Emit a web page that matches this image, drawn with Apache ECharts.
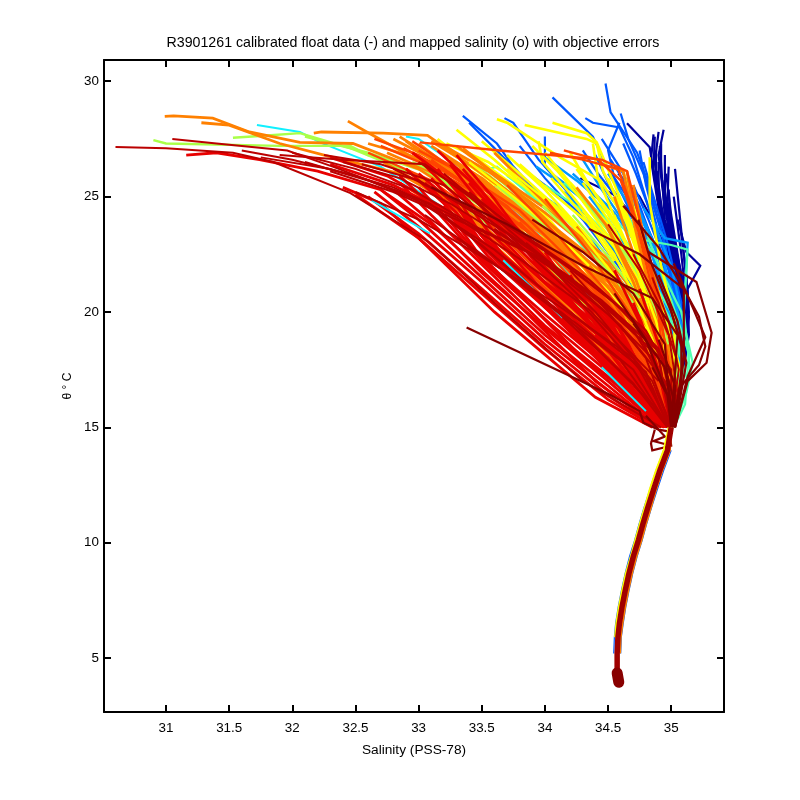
<!DOCTYPE html>
<html><head><meta charset="utf-8">
<script src="https://cdn.jsdelivr.net/npm/echarts@6/dist/echarts.min.js"></script>
<style>html,body{margin:0;padding:0;background:#fff}#c{width:800px;height:800px}</style>
</head><body><div id="c"></div>
<script>
const titleText = 'R3901261 calibrated float data (-) and mapped salinity (o) with objective errors';
const xName = 'Salinity (PSS-78)';
const yName = 'θ ° C';
const xTicks = [31,31.5,32,32.5,33,33.5,34,34.5,35];
const yTicks = [5,10,15,20,25,30];

// Each profile: flat salinity, theta pairs, warm end first
const navy = [
[34.65,28.18,34.83,27.14,34.87,25.7,35.0,22.7,35.11,19.6,35.07,16.6,35,14.9],
[34.94,27.9,34.9,26.8,34.95,24.5,35.07,21.5,35.12,19,35.05,16,35,15],
[34.9,27.8,34.87,26.5,34.94,24,35.05,21,35.1,18.8,35.03,15.8,35,15],
[34.87,27.6,34.86,26.2,34.92,23.8,35.08,21,35.1,18.5,35.03,15.5,34.99,15],
[34.92,27.3,34.92,26,34.98,23.5,35.1,20.5,35.12,18.4,35.04,15.9,35,15],
[34.88,27,34.88,25.4,34.96,23,35.07,20.2,35.09,18.2,35.02,15.5,35,15],
[34.95,26.8,34.95,25.2,35.02,23,35.12,20,35.1,18,35.02,15.5,35,15],
[34.9,26.5,34.9,25,34.97,22.8,35.1,20,35.13,18.6,35.04,16,35,15],
[35.03,26.2,35.08,23.5,35.12,21.5,35.13,19,35.06,16.5,35,15],
[34.93,25.7,34.95,24,35.04,22,35.11,19.5,35.05,16,35,15],
[34.98,25.3,35.0,23.5,35.1,21,35.12,19,35.04,16,35,15],
[35.02,25,35.08,22.5,35.13,20,35.1,18,35.03,15.6,35,15],
[34.58,26,34.75,25,34.85,24,34.98,22.5,35.1,20,35.05,16.5,35,15],
[34.28,25.8,34.54,25.1,34.72,24.1,34.9,22.5,35.05,20,35.05,17,35,15],
[35.05,24,35.12,22.6,35.23,22,35.13,21,35.14,19,35.05,16,35,15],
[35.08,23.4,35.12,21.5,35.14,20,35.1,18,35.03,15.6,35,15],
[34.86,27.7,34.84,26.6,34.9,24.5,35.02,22,35.08,19.5,35.04,16,35,15],
[34.98,26.3,34.97,24.8,35.05,22.4,35.13,20.4,35.08,17.5,35,15],
[34.91,27.2,34.93,25.6,35,23.2,35.09,20.8,35.11,18.8,35.03,15.7],
[34.96,26,35,24.2,35.06,22.2,35.14,19.8,35.06,16.4,35,15],
[34.89,26.1,34.92,24.4,35.01,22,35.1,19.2,35.03,15.8]
];
const blue = [
[34.48,29.9,34.52,28.65,34.73,26.9,34.81,25.7,34.95,23,35.05,20,35.03,16.5,35,15],
[34.06,29.3,34.38,27.6,34.49,26.3,34.65,25,34.85,22.5,35.02,19,35,15],
[34.32,28.4,34.38,28.2,34.59,28,34.7,26.7,34.85,24,35.02,20.5,35.03,17,35,15],
[33.35,28.5,33.62,27.3,33.75,26.3,34.05,24.5,34.45,22,34.85,18.5,35,15],
[33.4,28.2,33.6,27.1,33.85,25.7,34.2,23.6,34.6,20.8,34.9,17.5,35,15],
[33.68,28.4,33.75,28.2,33.95,26.6,34.1,25.7,34.4,23.8,34.8,20,35,15],
[34.0,27.6,34.0,26.3,34.15,25.4,34.5,23,34.85,20,35,15],
[34.59,28.2,34.5,27,34.55,25.8,34.75,23.5,35,19.8,35.02,17,35,15],
[34.6,28.6,34.66,27.5,34.78,26,34.92,23.5,35.08,20,35.04,16,35,15],
[34.4,26.8,34.5,25.6,34.7,24,34.95,21.5,35.05,18.5,35,15],
[34.75,27,34.8,25.5,34.92,23,35.05,20.5,35.05,17,35,15],
[33.9,25.9,34.15,24.9,34.5,23.1,34.85,20.5,35.02,17.5,35,15],
[34.7,25.5,34.82,24,34.98,21.8,35.08,19.5,35.03,16,35,15],
[34.2,25.5,34.42,24.2,34.7,22.2,34.95,19.5,35,15],
[33.55,26.2,33.9,24.5,34.3,22.2,34.7,19,34.98,15],
[34.62,27.3,34.72,26,34.83,24.4,34.98,22,35.08,19.2,35.02,16],
[34.45,27.5,34.6,26.2,34.75,24.6,34.9,22.4,35.03,19.4,35,15],
[34.3,27,34.42,26,34.62,24.6,34.85,22,35,19,35,15],
[33.8,27.2,34,25.8,34.3,24,34.65,21.5,34.95,18,35,15],
[34.78,26.5,34.86,25,34.97,23,35.08,20.4,35.04,16.6],
[34.52,26.6,34.68,25.2,34.85,23.2,35,20.6,35.04,17.4]
];
const azure = [
[33.93,26.3,34.2,25.3,34.5,24,34.8,21.5,35.0,18.6,35,15],
[34.05,26.0,34.3,25,34.6,23.3,34.85,21,35.02,18,35,15],
[34.3,26.6,34.45,25.3,34.7,23.3,34.95,20.5,35.05,17.5,35,15],
[33.78,25.8,34.1,24.6,34.4,22.9,34.75,20.2,34.98,16.5,35,15],
[34.5,26.0,34.65,24.8,34.8,23.2,35.0,20.5,35.03,17,35,15],
[33.6,25.5,33.9,24.3,34.25,22.4,34.65,19.6,34.95,16,35,15],
[34.65,25.6,34.78,24,34.95,22,35.1,19,35.05,16,35,15],
[34.15,25.2,34.4,23.8,34.7,21.6,34.95,18.5,35,15],
[34.35,25,34.55,23.6,34.82,21.4,35,18.5,35,15],
[34.78,24.5,34.95,23.2,35.13,23,35.1,20,35.05,17,35,15],
[34.85,24,35,22,35.1,19.5,35.05,16.5,35,15],
[34.0,26.7,34.25,25.7,34.55,24.3,34.82,22.2,35.02,19.4,35,15.4],
[34.22,26,34.5,24.6,34.78,22.8,34.98,20.4,35.05,17.6],
[34.42,25.7,34.6,24.4,34.85,22.4,35.03,19.8,35.02,16.4],
[34.7,24.8,34.85,23,35,21,35.08,18.6,35,15.4]
];
const cyan = [
[31.72,28.1,32.06,27.8,32.22,27.35,32.7,26.3,33.2,24.5,33.8,21.6,34.5,17.6,34.95,15],
[33.3,26.5,33.7,24.6,34.3,21,34.7,18.3,34.98,15],
[33.6,26.6,34.0,24.7,34.4,22.3,34.8,19,35,15],
[32.9,27.6,33.0,27.5,33.4,26,34,23.2,34.6,19.5,34.98,15]
];
const aqua = [
[33.48,26.1,33.62,26.3,33.9,25,34.3,23.2,34.7,20.5,34.98,17,35,15],
[34.0,25.5,34.3,24.4,34.6,22.8,34.9,20.3,35.08,18,35,15],
[34.15,25.6,34.45,24.2,34.75,22.3,35.0,20,35.1,17.5,35.05,15.8,35,15],
[34.4,24.8,34.7,23.2,35.0,22.9,35.13,22.7,35.1,20,35.15,17.4,35.07,15.8,35,15],
[34.6,24.6,34.85,22.6,35.08,20,35.17,17.8,35.12,16.5,35.02,15],
[34.8,23.5,35.0,20.5,35.14,18.2,35.11,16,35.02,15],
[33.85,25.2,34.15,23.8,34.55,21.2,34.92,18,35.02,15],
[33.7,25.9,34.05,24.6,34.45,22.5,34.82,19.6,35,16.4],
[34.25,25.2,34.55,23.4,34.85,21,35.05,18.2,35.03,15.6],
[34.5,24.2,34.75,22.2,35,19.6,35.13,17,35.05,15.4]
];
const lime = [
[30.9,27.45,31.0,27.3,31.9,27.2,32.46,27.2,32.6,26.8,32.99,26.3,33.5,24.6,34.2,21,34.8,17.3,35,15],
[31.53,27.55,31.8,27.65,32.06,27.75,32.46,27.1,33,25.9,33.5,24,34.1,21.2,34.75,17.2,34.98,15],
[32.1,27.6,32.6,26.9,33.1,26,33.6,24.2,34.2,21.4,34.75,17.8,35,15],
[33.0,26.4,33.5,24.7,33.9,23,34.4,20.3,34.85,17,35,15],
[33.3,25.6,33.75,24,34.15,22,34.6,19.3,34.95,16,35,15],
[33.6,25.9,33.95,24.3,34.4,21.8,34.8,18.8,35,15],
[33.95,25.2,34.3,23.4,34.65,21,34.95,18,35,15],
[34.3,24.8,34.6,22.9,34.85,20.6,35.05,17.8,35,15],
[33.2,26.8,33.65,25,34.1,22.9,34.6,19.6,34.97,15.5],
[34.2,23.6,34.5,21.6,34.85,18.8,35,15],
[33.45,26.4,33.85,24.6,34.25,22.6,34.7,19.8,34.98,16.2],
[33.8,25.6,34.15,23.9,34.5,21.8,34.88,18.6,35.02,15.8],
[34.05,24.8,34.4,22.8,34.72,20.4,34.98,17.4,35,15],
[34.45,24,34.7,21.9,34.95,19.2,35.05,16.6]
];
const yellow = [
[33.62,28.35,33.7,28.2,34.12,26.7,34.44,25.7,34.72,23.3,34.92,20.5,35.03,17,35,15],
[33.84,28.1,34.33,27.5,34.41,27.3,34.46,26.1,34.65,24.1,34.88,20.6,35.02,17,35,15],
[34.06,28.2,34.33,27.75,34.41,27.35,34.59,25,34.78,22.5,34.95,19.5,35,15],
[34.83,26.7,34.83,24.7,34.92,22,35.03,19.5,35,15],
[33.3,27.9,33.6,26.6,33.95,24.9,34.3,23,34.7,20,34.95,17,35,15],
[33.22,27.3,33.55,26.5,33.9,25.2,34.2,24,34.6,21,34.9,17.7,35,15],
[33.9,27.2,34.1,26.1,34.3,24.8,34.62,22.4,34.92,18.8,35,15],
[33.95,27.4,33.98,26.5,34.22,25,34.55,22.8,34.85,19.6,35,15],
[34.2,26.9,34.35,25.5,34.6,23.4,34.82,20.8,35,17,35,15],
[33.4,26.9,33.75,25.5,34.05,23.9,34.45,21.3,34.82,18.2,35,15],
[33.12,26.6,33.6,24.8,34,23,34.5,20,34.9,16.5,35,15],
[34.38,27.3,34.42,25.8,34.62,23.2,34.8,21,35,17,35,15],
[33.7,26.8,34,25.3,34.35,23.2,34.7,20.2,34.95,17,35,15],
[34.5,25.8,34.65,23.8,34.8,21.5,34.98,18.5,35,15],
[34.58,25.1,34.72,22.8,34.9,19.6,35.03,16.8,35,15],
[33.55,25.6,33.9,23.8,34.3,21.5,34.7,18.5,34.97,15.5],
[34.1,24.7,34.4,22.6,34.7,19.8,34.95,16.5,35,15],
[34.7,24.3,34.8,22.5,34.95,20,35.08,17.3,35,15],
[33.5,27.4,33.8,26,34.1,24.5,34.5,22,34.85,18.8,35,15.5],
[33.8,26.4,34.05,25.2,34.4,23.6,34.72,21,34.98,17.6,35,15],
[34.0,26.9,34.2,25.6,34.5,23.8,34.75,21.6,35,17.8],
[33.15,27.5,33.45,26.2,33.85,24.4,34.25,22.4,34.68,19.2,34.98,16],
[33.25,26.9,33.6,25.6,34,24,34.4,21.9,34.78,18.8,35,15.4],
[34.25,26.2,34.5,24.4,34.72,22.2,34.93,19.2,35.02,16.2],
[33.65,25.4,34.05,23.5,34.45,21,34.82,18,35,15.2],
[34.3,25.6,34.55,23.6,34.78,20.9,35,17.4],
[34.62,26.1,34.72,24.2,34.88,21,35,18.2,35,15.4]
];
const orange = [
[30.99,28.48,31.06,28.5,31.37,28.4,31.66,27.8,32.06,27.35,32.48,27.3,33,26.2,33.5,24.4,34,22,34.6,18.6,34.98,15],
[31.28,28.2,31.5,28.1,31.9,27.3,32.32,26.7,32.85,26,33.3,24.6,33.9,21.8,34.5,18.3,34.97,15],
[32.17,27.75,32.23,27.8,32.72,27.75,33.07,27.65,33.4,26.4,33.8,24.8,34.3,22,34.8,18.4,35,15],
[32.44,28.27,32.59,27.8,33.09,26.3,33.5,24.6,34,22,34.6,18.4,34.97,15],
[32.85,27.6,33.05,26.9,33.5,25.2,33.95,23.2,34.4,20.5,34.85,17,35,15],
[32.95,26.9,33.35,25.6,33.8,23.6,34.25,21,34.7,18,34.98,15],
[33.1,27.2,33.5,25.8,33.95,23.8,34.4,21,34.85,17.3,35,15],
[32.72,26.5,33.2,25,33.7,22.8,34.2,20,34.72,17,34.97,15],
[33.25,26.6,33.65,25,34.1,22.8,34.55,20,34.9,17,35,15],
[33.35,27.1,33.8,25.1,34.2,23,34.62,20.3,34.95,16.5,35,15],
[33.5,25.8,33.95,23.6,34.35,21.4,34.75,18.5,34.98,15.5],
[33.05,25.4,33.5,23.4,34,20.9,34.5,18.1,34.93,15],
[33.6,26.9,33.95,25,34.35,22.8,34.75,19.6,35,15.5],
[34.45,26.4,34.62,26.1,34.72,23.5,34.85,20.5,35,16.5,35,15],
[34.65,26.1,34.7,24.4,34.82,22,34.97,18.6,35,15],
[34.7,25.5,34.78,23.3,34.9,20.8,35.02,17,35,15],
[33.75,24.9,34.15,22.7,34.55,20,34.9,17,35,15],
[34.25,23.7,34.55,21.5,34.8,19,34.98,16,35,15],
[32.9,26.2,33.4,24.3,33.85,22.1,34.35,19.4,34.9,15.7],
[33.85,24.2,34.25,21.9,34.65,19,34.97,15.6],
[34.5,23.6,34.7,21.3,34.9,18.4,35,15],
[34.0,24,34.4,21.5,34.75,18.6,35,15],
[32.9,27.4,33.5,25,34,23.1,34.5,20.8,34.88,18.2,35,15],
[33,27.3,33.5,25.2,34,23.3,34.5,21.1,34.88,18.5,35,15.2],
[32.8,27.5,33.5,25.5,34,23.5,34.5,21.3,34.9,18.4,35,15],
[33.05,26.9,33.5,25.7,34,23.8,34.52,21.4,34.88,18.9,35,15],
[33.1,27.4,33.55,25.9,34,24,34.5,21.8,34.9,18.8,35,15.3],
[33.2,27.2,33.55,26.1,34,24.3,34.5,22.1,34.9,19,35,15],
[33.3,27.2,33.6,26,34,24.5,34.5,22.3,34.88,19.6,35,15.5],
[32.6,27.3,33.1,26.5,33.6,24.8,34.1,22.6,34.6,20,34.96,16.2],
[32.75,26.9,33.25,25.7,33.7,24.2,34.2,22.2,34.65,19.8,34.98,16],
[34.25,25.4,34.48,23.8,34.72,21.4,34.95,18,35,15.2],
[34.55,25,34.66,23.2,34.82,20.6,34.97,17,35,15],
[34.72,24.8,34.8,22.8,34.93,19.8,35.03,16.4]
];
// lighter strands that still show through the orange band
const limeTop = [
[33.98,24.6,34.25,23.2,34.55,21.5,34.8,19.6],
[34.22,24.2,34.5,22.4,34.75,20.6],
[34.62,22.7,34.82,20.9,34.98,18.6],
[33.62,25.5,33.85,24.4,34.1,23.3],
[32.95,26.5,33.2,25.9,33.42,25]
];
const yellowTop = [
[33.4,26.5,33.75,25,34.05,23.6,34.35,22],
[33.7,26.2,34,24.9,34.3,23.3,34.6,21.2],
[34.3,24.4,34.55,22.5,34.75,20.2,34.92,17.8],
[34.05,25.8,34.3,24.2,34.55,22.2],
[34.55,24.2,34.72,22,34.88,19.6,35,17]
];
const orangeRed = [
[33.01,27.35,33.64,27,34.45,26.6,34.65,26.1,34.75,24,34.88,21,35,17,35,15],
[34.04,26.9,34.3,26.6,34.58,26.2,34.72,24,34.85,21.5,35,17.2,35,15],
[34.15,27,34.42,26.6,34.6,25.7,34.74,23.5,34.9,19.8,35,15],
[33.0,27,33.35,26,33.8,24.4,34.3,21.7,34.8,18.4,35,15],
[32.95,27.4,33.2,26.5,33.7,24.6,34.2,22,34.7,18.6,34.98,15],
[32.6,26.9,33.1,25.7,33.55,23.9,34.05,21.2,34.6,17.9,34.96,15],
[33.15,26.1,33.6,24.2,34.1,21.7,34.6,18.7,34.97,15],
[33.4,25.9,33.85,23.8,34.3,21.3,34.7,18.5,34.98,15],
[33.7,25.5,34.1,23.3,34.5,20.8,34.85,17.7,35,15],
[32.85,25.6,33.3,24,33.8,21.7,34.35,18.6,34.93,15],
[33.2,24.9,33.7,22.6,34.2,20,34.7,17,34.98,15],
[33.5,24.4,33.95,22.2,34.4,19.6,34.85,16.7,35,15],
[34.0,24.9,34.35,22.6,34.7,19.7,34.98,16,35,15],
[33.8,23.9,34.25,21.2,34.7,18,34.98,15],
[32.7,27.2,33.05,26.4,33.5,25,34,22.9,34.5,20.4,34.92,16.8],
[32.88,27.1,33.2,26.2,33.55,24.9,34.05,22.6,34.55,19.9,34.95,16.2],
[33.1,26.6,33.45,25.2,33.95,23.1,34.45,20.4,34.88,17,35,15],
[32.65,27.5,33,26.8,33.4,25.4,33.85,23.6,34.35,21.2,34.85,17.8]
];
const red = [
[31.16,26.8,31.4,26.9,31.74,26.6,32.2,26.1,32.7,25.3,33.1,23.8,33.7,20.8,34.4,17,34.9,15],
[32.4,25.4,32.7,24.7,33.0,23.2,33.6,20,34.4,16.3,34.85,15],
[32.3,26.7,32.75,25.9,33.2,24.5,33.7,22.1,34.25,19.1,34.9,15.4],
[32.3,26.4,32.8,25.5,33.2,24.4,33.7,21.8,34.3,18.6,34.9,15.2],
[32.5,25.1,33,23.2,33.5,20.8,34,18.4,34.5,16.2,34.88,15],
[32.6,25,33,23.4,33.5,21,34,18.6,34.52,16.3,34.88,15],
[32.65,25.2,33,23.7,33.5,21.3,34,18.8,34.5,16.6,34.9,15],
[32.7,25.3,33,24,33.52,21.4,34,19,34.5,16.8,34.9,15],
[32.8,25.3,33.1,23.9,33.5,21.7,34.02,19.2,34.5,17,34.92,15],
[32.85,25.6,33.1,24.2,33.55,21.8,34,19.4,34.5,17.2,34.92,15],
[32.85,25.9,33.12,24.5,33.5,22.2,34.04,19.5,34.52,17.3,34.94,15],
[33,25.4,33.25,23.9,33.5,22.3,34,19.9,34.5,17.6,34.94,15],
[32.9,26.2,33.2,24.7,33.55,22.4,34.02,20.1,34.55,17.6,34.95,15],
[33.05,25.6,33.3,24.3,33.52,22.8,34,20.3,34.5,18,34.95,15],
[33,26,33.3,24.6,33.5,23,34,20.5,34.52,18.2,34.95,15],
[33.1,25.8,33.35,24.3,33.55,23,34.02,20.7,34.5,18.4,34.96,15],
[33.02,26.5,33.3,25,33.5,23.3,34,20.9,34.55,18.4,34.96,15],
[33.15,26.2,33.4,24.6,33.55,23.5,34.05,21,34.5,18.8,34.97,15],
[33.2,25.9,33.4,24.8,33.58,23.6,34,21.3,34.52,19,34.97,15],
[33.25,26.4,33.45,25,33.6,23.8,34.02,21.5,34.55,19,34.98,15],
[32.95,26.9,33.4,25.1,33.65,23.7,34.04,21.7,34.52,19.5,34.98,15.2],
[33.15,27,33.5,25.2,33.7,23.8,34.05,21.9,34.55,19.6,34.98,15.4],
[33.3,26.8,33.6,24.9,33.75,23.8,34.1,21.8,34.6,19.2,35,15.2],
[33.35,26.2,33.6,24.6,33.8,23.4,34.15,21.4,34.62,18.8,34.98,15],
[33.4,25.6,33.65,24.1,33.85,22.8,34.2,20.8,34.65,18.2,34.98,15],
[33.5,24.9,33.75,23.3,33.95,22,34.25,20.2,34.65,17.8,34.98,15],
[33.6,24.4,33.85,22.8,34.05,21.5,34.35,19.5,34.72,17.4,34.98,15],
[33.7,23.8,33.95,22.2,34.15,20.8,34.42,19,34.78,17,34.98,15],
[33.85,23,34.05,21.6,34.25,20.2,34.5,18.6,34.82,16.8,34.99,15],
[34,22.6,34.2,21,34.38,19.6,34.6,18,34.85,16.4,34.99,15],
[34.2,21.6,34.35,20.2,34.5,18.8,34.72,17.2,34.9,15.9,35,15],
[34.35,20.6,34.5,19.4,34.62,18.2,34.8,16.8,34.93,15.6],
[34.5,19.8,34.62,18.6,34.75,17.4,34.9,16,34.98,15],
[34.6,18.5,34.8,16.6,34.98,15],
[34.4,19,34.7,17,34.95,15],
[34.7,20.4,34.82,18.8,34.93,17,35,15],
[34.78,19.2,34.9,17.4,35,15],
[34.75,21,34.9,18.6,35.02,16.2],
[34.55,21.8,34.8,19,34.98,16],
[33.2,24.6,33.45,22.7,33.9,20.2,34.3,18,34.72,16.2],
[33.25,25,33.6,22.6,34.1,19.8,34.6,17.2,34.92,15.4],
[33.5,23.6,33.8,21.6,34.2,19.2,34.62,17,34.95,15],
[33.7,22.7,34,20.8,34.35,18.8,34.7,16.9,34.97,15],
[33.9,22.2,34.2,20.4,34.55,18.2,34.85,16.2]
];
const cyanTop = [
[32.63,24.84,33.09,23.4],
[33.67,22.24,34.14,19.75],
[34.45,17.6,34.8,15.7]
];
const crimson = [
[31.05,27.5,31.4,27.3,31.96,27.0,32.32,26.3,33.09,24.7,33.6,22.4,34.2,19.6,34.85,16,34.98,15],
[30.6,27.15,31.0,27.1,31.53,26.9,31.85,26.5,32.46,25.15,33.09,23,33.6,20.4,34.3,17,34.92,15],
[31.6,27.0,32,26.6,32.5,25.9,33,24.9,33.5,22.9,34.1,20,34.7,16.9,34.97,15],
[31.9,26.8,32.4,26.6,33.05,26.4,33.4,25,33.9,22.7,34.4,20,34.85,17,35,15],
[32.25,26.8,32.7,26.4,33.2,25.5,33.7,23.4,34.25,20.6,34.8,17.2,34.98,15],
[32.1,26.5,32.6,25.7,33.0,24.8,33.6,22.7,34.2,20,34.8,17.4,34.98,15],
[32.3,26.1,32.8,25.2,33.3,24,33.9,22.5,34.4,20.6,34.9,18.1,35,15],
[32.55,26.4,33.0,25.7,33.5,24.2,34,22.3,34.5,20.2,34.9,18,35,15],
[32.8,26.2,33.2,25.1,33.7,23.4,34.2,21.5,34.7,19.2,34.98,16.7,35,15],
[33.0,26.5,33.4,25.1,33.9,23.1,34.35,21.4,34.8,19.2,35.02,17,35,15],
[33.2,26,33.6,24.1,34.1,22.3,34.55,20.4,34.9,18.4,35.02,16,35,15],
[32.5,25.2,33,24,33.5,22.4,34.1,20.3,34.7,18,35,15],
[33.4,25.2,33.85,23.2,34.3,21.5,34.7,19.7,35,17.5,35,15],
[33.6,23.6,34.05,21.9,34.5,19.9,34.85,18,35,15.8],
[33.05,24.2,33.5,22.5,34.05,20.2,34.6,17.9,34.98,15],
[33.3,23.2,33.75,21.5,34.25,19.5,34.7,17.5,34.98,15],
[33.85,23,34.2,21.4,34.6,19.4,34.95,17,35,15],
[34.2,21.8,34.5,20,34.8,18,35,15],
[34.5,23.8,34.75,21.8,34.98,19,35.05,16.5,35,15],
[34.7,22.5,34.9,20.4,35.04,18,35,15],
[34.85,21.5,34.98,19.6,35.06,17.5,35,15],
[32,26.9,32.5,26.2,32.95,25.3,33.45,23.7,33.95,22.4,34.45,20.5,34.9,18.3],
[32.4,26.5,32.85,25.8,33.25,24.7,33.75,23,34.25,21.2,34.75,19,35,16],
[31.75,26.7,32.3,26.2,32.8,25.4,33.3,24.1,33.8,22.3,34.35,20.1,34.9,17]
];
const darkRed = [
[33.38,19.33,34.52,16.4,34.75,15.7,34.78,15.2,34.9,14.9,35,14.8],
[34.82,22.6,35.2,21.3,35.32,19.1,35.28,17.8,35.13,17,35.03,15],
[35.02,22.1,35.17,20.2,35.27,18.9,35.13,17.2,35.03,15],
[34.35,23.6,34.75,22.5,35.1,21,35.22,19.8,35.27,18.5,35.22,17.7,35.08,16.8,35,15],
[34.62,24.6,34.9,22.8,35.1,21,35.1,18,35.03,15],
[34.74,24,34.85,22,35,20,35.1,18.2,35.02,15],
[33.1,25.4,33.7,23.8,34.3,22,34.85,20.6,35.05,19,35,15],
[33.9,24,34.3,22.6,34.7,20.8,34.95,18.6,35,15],
[34.7,19.5,34.95,17.6,35.03,15],
[34.55,20.8,34.8,18.8,35,16,35,15],
[34.87,14.9,34.84,14.3,34.85,14.0,35.0,14.2,34.98,15],
[34.8,15.5,34.95,14.6,34.86,14.4,35,14.2],
[34.9,21.6,35.05,19.6,35.12,17.8,35.03,15],
[34.98,20.4,35.08,18.6,35.08,16.8,35,15],
[34.85,17.6,34.97,16.4,35,15],
[34.9,18.8,35.03,16.8,35.02,15],
[34.97,17.2,35.03,16,34.99,14.8]
];

const stemBlue = [34.94,14,34.88,13.13,34.83,12.3,34.785,11.53,34.745,10.8,34.71,10.1,34.67,9.4,34.635,8.66,34.605,7.9,34.58,7.2,34.56,6.5,34.55,5.9,34.545,5.2];
const stemBlueB = [35,14,34.94,13.13,34.89,12.3,34.845,11.53,34.805,10.8,34.77,10.1,34.73,9.4,34.695,8.66,34.665,7.9,34.64,7.2,34.62,6.5,34.605,5.9,34.6,5.2];
const stemYellow = [34.98,15,34.94,14,34.88,13.13,34.83,12.3,34.79,11.53,34.75,10.8,34.715,10.1,34.68,9.4,34.64,8.66,34.61,7.9,34.585,7.2,34.565,6.5,34.555,5.9];
const stemOrange = [35,15,34.99,14,34.93,13.13,34.88,12.3,34.84,11.53,34.8,10.8,34.765,10.1,34.725,9.4,34.69,8.66,34.66,7.9,34.635,7.2,34.615,6.5,34.6,5.9,34.595,5.2];
const stemRed = [35,15,34.97,14,34.91,13.13,34.86,12.3,34.815,11.53,34.775,10.8,34.74,10.1,34.7,9.4,34.665,8.66,34.635,7.9,34.61,7.2,34.59,6.5,34.578,5.9,34.572,5.2,34.572,4.3];
const deepBlob = [34.572,4.35,34.585,3.95];

const colors = {navy:'#00009a',blue:'#0058ff',azure:'#0098ff',cyan:'#10f0ff',aqua:'#50ffb0',lime:'#aaff48',yellow:'#ffff00',
  orange:'#ff8000',orangeRed:'#ff4400',red:'#e80000',crimson:'#bb0000',darkRed:'#880000'};

function pairs(f){const o=[];for(let i=0;i<f.length;i+=2)o.push([f[i],f[i+1]]);return o;}
const series=[];
function add(list,color,w,cap){list.forEach(p=>series.push({type:'line',data:pairs(p),symbol:'none',silent:true,animation:false,clip:true,
  lineStyle:{color:color,width:w,cap:cap||'butt',join:'miter'}}));}
add(navy,colors.navy,2.2);add(blue,colors.blue,2.2);add(azure,colors.azure,2.4);add(cyan,colors.cyan,2);add(aqua,colors.aqua,2.2);
add(lime,colors.lime,2.4);add(yellow,colors.yellow,2.6);add(orange,colors.orange,2.8);add(limeTop,colors.lime,2.4);add(yellowTop,colors.yellow,2.4);
add(orangeRed,colors.orangeRed,2.4);add(red,colors.red,2.8);add(cyanTop,colors.cyan,2);add(crimson,colors.crimson,2);add(darkRed,colors.darkRed,2.2);
add([stemBlue,stemBlueB],colors.blue,1.2);add([stemYellow],colors.yellow,2);add([stemOrange],colors.orange,2);
add([stemRed],'#a00000',5.5);add([deepBlob],colors.darkRed,11,'round');

const frame={lineStyle:{color:'#000',width:2}};
const tick={inside:true,length:7,lineStyle:{color:'#000',width:2}};
function fmt(v){return String(v);}
const chart=echarts.init(document.getElementById('c'),null,{renderer:'canvas'});
chart.setOption({
 animation:false,backgroundColor:'#fff',
 title:{text:titleText,left:408,top:31,textAlign:'center',textStyle:{fontFamily:'Liberation Sans',fontSize:14.2,fontWeight:'normal',color:'#000'}},
 grid:{left:104,top:60,right:76,bottom:88},
 xAxis:[
  {type:'value',min:30.509,max:35.418,position:'bottom',splitLine:{show:false},axisLine:{onZero:false,...frame},
   axisTick:{...tick,customValues:xTicks},
   axisLabel:{customValues:xTicks,formatter:fmt,margin:10,color:'#000',fontFamily:'Liberation Sans',fontSize:13.4},
   name:xName,nameLocation:'middle',nameGap:31,nameTextStyle:{color:'#000',fontFamily:'Liberation Sans',fontSize:13.7}},
  {type:'value',min:30.509,max:35.418,position:'top',splitLine:{show:false},axisLine:{onZero:false,...frame},
   axisTick:{...tick,customValues:xTicks},axisLabel:{show:false}}
 ],
 yAxis:[
  {type:'value',min:2.66,max:30.92,position:'left',splitLine:{show:false},axisLine:{onZero:false,...frame},
   axisTick:{...tick,customValues:yTicks},
   axisLabel:{customValues:yTicks,formatter:fmt,margin:5,color:'#000',fontFamily:'Liberation Sans',fontSize:13.4},
   name:yName,nameLocation:'middle',nameGap:28,nameRotate:90,nameTextStyle:{color:'#000',fontFamily:'Liberation Sans',fontSize:12}},
  {type:'value',min:2.66,max:30.92,position:'right',splitLine:{show:false},axisLine:{onZero:false,...frame},
   axisTick:{...tick,customValues:yTicks},axisLabel:{show:false}}
 ],
 series:series
});
</script></body></html>
